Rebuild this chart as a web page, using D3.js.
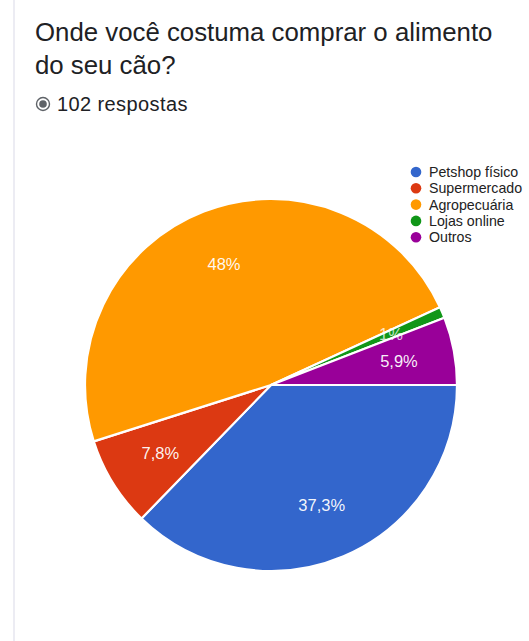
<!DOCTYPE html>
<html>
<head>
<meta charset="utf-8">
<script src="https://cdn.jsdelivr.net/npm/d3@7"></script>
<style>
  html, body { margin: 0; padding: 0; background: #fff; }
  svg { display: block; }
</style>
</head>
<body>
<svg id="chart" width="529" height="641"></svg>
<script>
// Survey answers: where the dog food is bought (102 responses)
const categories = ["Petshop físico", "Supermercado", "Agropecuária", "Lojas online", "Outros"];
const counts = [38, 8, 49, 1, 6];
const pctLabels = ["37,3%", "7,8%", "48%", "1%", "5,9%"];
const colors = ["#3366cc", "#dc3912", "#ff9900", "#109618", "#990099"];
const totalResponses = 102;

const svg = d3.select("#chart");
const font = "'Liberation Sans', Arial, sans-serif";

// card edge on the left
svg.append("rect").attr("x", 13).attr("y", 0).attr("width", 2).attr("height", 641).attr("fill", "#ececf3");

// heading
const title = svg.append("text").attr("font-family", font).attr("font-size", 25.8).attr("fill", "#202124");
title.append("tspan").attr("x", 35).attr("y", 41).text("Onde você costuma comprar o alimento");
title.append("tspan").attr("x", 35).attr("y", 74).text("do seu cão?");

// response count with radio-style icon
svg.append("circle").attr("cx", 43).attr("cy", 104).attr("r", 6.5).attr("fill", "none").attr("stroke", "#5f6368").attr("stroke-width", 1.4);
svg.append("circle").attr("cx", 43).attr("cy", 104).attr("r", 3.8).attr("fill", "#5f6368");
svg.append("text").attr("x", 57).attr("y", 110.5).attr("font-family", font).attr("font-size", 20).attr("fill", "#202124")
  .attr("letter-spacing", 0.4)
  .text(totalResponses + " respostas");

// pie, starting at three o'clock and running clockwise
const cx = 271, cy = 385, radius = 186;
const pie = d3.pie().sort(null).value(d => d)
  .startAngle(Math.PI / 2).endAngle(Math.PI / 2 + 2 * Math.PI);
const arcs = pie(counts);
const arc = d3.arc().innerRadius(0).outerRadius(radius);

const g = svg.append("g").attr("transform", `translate(${cx},${cy})`);
g.selectAll("path").data(arcs).join("path")
  .attr("d", arc)
  .attr("fill", (d, i) => colors[i])
  .attr("stroke", "#fff").attr("stroke-width", 2.2).attr("stroke-linejoin", "round");

const labelR = radius * 0.70;
g.selectAll("text.pct").data(arcs).join("text")
  .attr("class", "pct")
  .attr("transform", d => {
    const a = (d.startAngle + d.endAngle) / 2;
    return `translate(${Math.sin(a) * labelR},${-Math.cos(a) * labelR})`;
  })
  .attr("text-anchor", "middle").attr("dy", "0.36em")
  .attr("font-family", font).attr("font-size", 16.5).attr("fill", "#fff")
  .attr("fill-opacity", (d, i) => i === 3 ? 0.75 : 0.95)
  .text((d, i) => pctLabels[i]);

// legend
const legend = svg.append("g").attr("transform", "translate(416,172)");
const rows = legend.selectAll("g").data(categories).join("g")
  .attr("transform", (d, i) => `translate(0,${i * 16.3})`);
rows.append("circle").attr("r", 5.3).attr("fill", (d, i) => colors[i]);
rows.append("text").attr("x", 13).attr("dy", "0.36em")
  .attr("font-family", font).attr("font-size", 14.2).attr("fill", "#222")
  .text(d => d);
</script>
</body>
</html>
